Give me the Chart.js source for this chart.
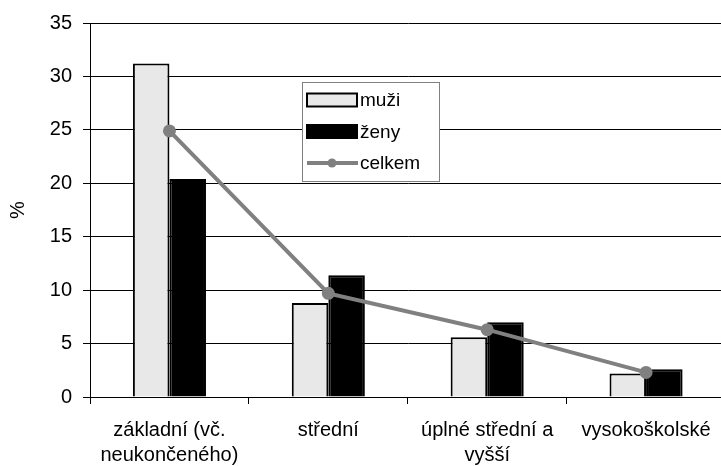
<!DOCTYPE html>
<html>
<head>
<meta charset="utf-8">
<script src="https://cdn.jsdelivr.net/npm/chart.js@4"></script>
<style>
  html, body { margin: 0; padding: 0; background: #fff; overflow: hidden; }
  #wrap { width: 721px; height: 466px; overflow: hidden; }
</style>
</head>
<body>
<div id="wrap"><canvas id="chart" width="734" height="466"></canvas></div>
<script>
// data
const categories = [['základní (vč.', 'neukončeného)'], 'střední', ['úplné střední a', 'vyšší'], 'vysokoškolské'];
const muzi = [31.2, 8.8, 5.6, 2.2];
const zeny = [20.4, 11.4, 7.0, 2.6];
const celkem = [24.9, 9.7, 6.3, 2.3];
const yMin = 0, yMax = 35, yStep = 5;

Chart.defaults.font.family = '"Liberation Sans", Arial, sans-serif';
Chart.defaults.font.size = 20;
Chart.defaults.color = '#000';

// legend drawn as a framed box inside the plot, like the original
const boxLegend = {
    id: 'boxLegend',
    afterDraw(chart) {
        const ctx = chart.ctx;
        const x = 302, y = 82, w = 137, h = 99;
        ctx.save();
        ctx.fillStyle = '#fff';
        ctx.fillRect(x, y, w, h);
        ctx.strokeStyle = '#808080';
        ctx.lineWidth = 1;
        ctx.strokeRect(x + 0.5, y + 0.5, w, h);
        ctx.font = '19px "Liberation Sans", Arial, sans-serif';
        ctx.textBaseline = 'middle';
        chart.data.datasets.forEach((ds, i) => {
            const cy = 100 + i * 31.5;
            if (ds.type === 'line') {
                ctx.strokeStyle = ds.borderColor;
                ctx.lineWidth = 4;
                ctx.beginPath();
                ctx.moveTo(307, cy);
                ctx.lineTo(358, cy);
                ctx.stroke();
                ctx.fillStyle = ds.pointBackgroundColor;
                ctx.beginPath();
                ctx.arc(332, cy, 4.5, 0, Math.PI * 2);
                ctx.fill();
            } else {
                ctx.fillStyle = ds.backgroundColor;
                ctx.fillRect(307, cy - 6.5, 50, 13);
                ctx.strokeStyle = '#000';
                ctx.lineWidth = 2;
                ctx.strokeRect(307, cy - 6.5, 50, 13);
            }
            ctx.fillStyle = '#000';
            ctx.fillText(ds.label, 360, cy + 1);
        });
        ctx.restore();
    }
};

new Chart(document.getElementById('chart'), {
    type: 'bar',
    data: {
        labels: categories,
        datasets: [
            {
                label: 'muži',
                data: muzi,
                backgroundColor: '#e8e8e8',
                borderColor: '#000',
                borderWidth: 2,
                order: 1
            },
            {
                label: 'ženy',
                data: zeny,
                backgroundColor: '#000',
                borderColor: '#000',
                borderWidth: 2,
                order: 1
            },
            {
                type: 'line',
                label: 'celkem',
                data: celkem,
                borderColor: '#808080',
                borderWidth: 4,
                pointBackgroundColor: '#808080',
                pointBorderColor: '#808080',
                pointRadius: 4.5,
                tension: 0,
                order: 0
            }
        ]
    },
    options: {
        responsive: false,
        animation: false,
        layout: { padding: { top: 19, right: 0, bottom: 0, left: 0 } },
        datasets: {
            bar: { categoryPercentage: 0.46, barPercentage: 1 }
        },
        plugins: {
            legend: { display: false },
            tooltip: { enabled: false },
            boxLegend: {}
        },
        scales: {
            x: {
                offset: true,
                grid: {
                    offset: true,
                    drawOnChartArea: false,
                    drawTicks: true,
                    tickLength: 7,
                    color: '#000'
                },
                border: { color: '#000', width: 1 },
                ticks: {
                    padding: 14,
                    maxRotation: 0,
                    autoSkip: false,
                    font: { size: 20, lineHeight: 1.25 }
                },
                afterFit(scale) { scale.height = 69; }
            },
            y: {
                min: yMin,
                max: yMax,
                ticks: { stepSize: yStep, padding: 11, font: { size: 20 } },
                grid: { color: '#000', lineWidth: 1, tickLength: 7 },
                border: { color: '#000', width: 1 },
                title: { display: true, text: '%', font: { size: 20 }, padding: { top: 6, bottom: 4 } },
                afterFit(scale) { scale.width = 90; }
            }
        }
    },
    plugins: [boxLegend]
});
</script>
</body>
</html>
